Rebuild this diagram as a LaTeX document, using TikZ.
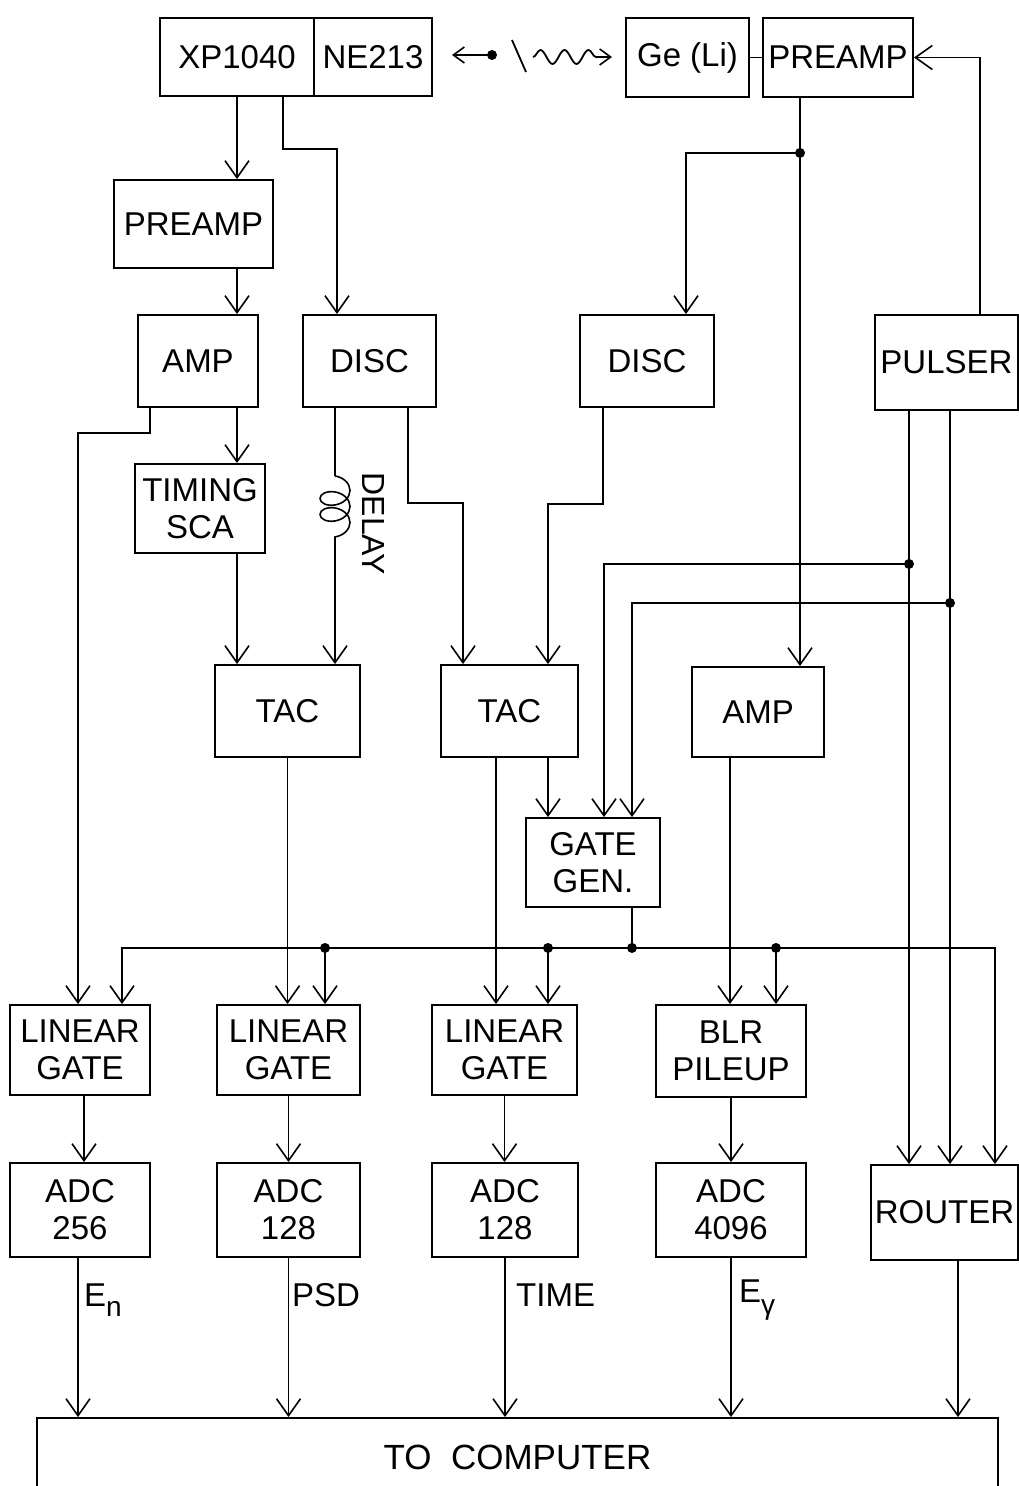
\documentclass[tikz,border=0pt]{standalone}
\usepackage{fontspec}
\setmainfont{Liberation Sans}
\usetikzlibrary{arrows.meta,decorations.pathmorphing,calc}
\begin{document}
\begin{tikzpicture}[x=1pt,y=-1pt,
  blk/.style={draw, line width=1.9pt, inner sep=0pt, align=center, font=\fontsize{33}{37}\selectfont},
  wire/.style={line width=1.8pt},
  arr/.style={line width=1.8pt, -{Straight Barb[length=17pt,width=24pt,line width=1.6pt]}},
  arrs/.style={line width=1.8pt, -{Straight Barb[length=11pt,width=16pt,line width=1.6pt]}},
  lab/.style={font=\fontsize{33}{37}\selectfont, anchor=west, inner sep=0pt},
  dot/.style={circle, fill, inner sep=0pt, minimum size=10pt}]
\useasboundingbox (0,0) rectangle (1019,1486);

% ---- boxes ----
\node[blk,minimum width=154pt,minimum height=78pt] (xp) at (237,57) {XP1040};
\node[blk,minimum width=118pt,minimum height=78pt] (ne) at (373,57) {NE213};
\node[blk,minimum width=123pt,minimum height=79pt] (ge) at (687.5,57.5) {Ge (Li)};
\node[blk,minimum width=150pt,minimum height=79pt] (pre2) at (838,57.5) {PREAMP};
\node[blk,minimum width=159pt,minimum height=88pt] (pre1) at (193.5,224) {PREAMP};
\node[blk,minimum width=120pt,minimum height=92pt] (amp1) at (198,361) {AMP};
\node[blk,minimum width=133pt,minimum height=92pt] (disc1) at (369.5,361) {DISC};
\node[blk,minimum width=134pt,minimum height=92pt] (disc2) at (647,361) {DISC};
\node[blk,minimum width=143pt,minimum height=95pt] (pulser) at (946.5,362.5) {PULSER};
\node[blk,minimum width=130pt,minimum height=89pt] (tsca) at (200,508.5) {TIMING\\SCA};
\node[blk,minimum width=145pt,minimum height=92pt] (tac1) at (287.5,711) {TAC};
\node[blk,minimum width=137pt,minimum height=92pt] (tac2) at (509.5,711) {TAC};
\node[blk,minimum width=132pt,minimum height=90pt] (amp2) at (758,712) {AMP};
\node[blk,minimum width=134pt,minimum height=89pt] (gg) at (593,862.5) {GATE\\GEN.};
\node[blk,minimum width=140pt,minimum height=90pt] (lg1) at (80,1050) {LINEAR\\GATE};
\node[blk,minimum width=143pt,minimum height=90pt] (lg2) at (288.5,1050) {LINEAR\\GATE};
\node[blk,minimum width=145pt,minimum height=90pt] (lg3) at (504.5,1050) {LINEAR\\GATE};
\node[blk,minimum width=150pt,minimum height=92pt] (blr) at (731,1051) {BLR\\PILEUP};
\node[blk,minimum width=140pt,minimum height=94pt] (adc1) at (80,1210) {ADC\\256};
\node[blk,minimum width=143pt,minimum height=94pt] (adc2) at (288.5,1210) {ADC\\128};
\node[blk,minimum width=146pt,minimum height=94pt] (adc3) at (505,1210) {ADC\\128};
\node[blk,minimum width=150pt,minimum height=94pt] (adc4) at (731,1210) {ADC\\4096};
\node[blk,minimum width=147pt,minimum height=95pt] (router) at (944.5,1212.5) {ROUTER};
\node[blk,minimum width=961pt,minimum height=78pt,font=\fontsize{35}{38}\selectfont] (comp) at (517.5,1457) {TO\; COMPUTER};

% ---- source pictogram ----
\draw[wire] (ge.east) -- (pre2.west);
\coordinate (src) at (492,55);
\draw[arrs] (src) -- (452,55);
\fill (src) circle (5);
\draw[wire] (512,40) -- (526,72);
\draw[wire, decorate, decoration={snake, amplitude=7pt, segment length=24pt}] (533,57) -- (600,57);
\draw[arrs] (598,57) -- (612,57);

% ---- left chain ----
\draw[arr] (xp.south) -- (xp.south |- pre1.north);
\draw[arr] (xp.south |- pre1.south) -- (xp.south |- amp1.north);
\draw[arr] (xp.south |- amp1.south) -- (xp.south |- tsca.north);
\draw[arr] (xp.south |- tsca.south) -- (xp.south |- tac1.north);
\draw[arr] ([xshift=-90pt]ne.south) -- ++(0,52) -| ([xshift=-32.5pt]disc1.north);

% delay line
\coordinate (dl) at ([xshift=-34.5pt]disc1.south);
\draw[wire] (dl) -- ++(0,68) coordinate (coilA);
\draw[line width=1.6pt, decorate, decoration={coil, aspect=0.7, segment length=16pt, amplitude=15pt}] (coilA) -- ++(0,72) coordinate (coilB);
\draw[arr] (coilB) -- (dl |- tac1.north);
\node[font=\fontsize{32}{34}\selectfont, rotate=-90] (delay) at (374,524) {DELAY};

\draw[arr] ([xshift=38.5pt]disc1.south) -- ++(0,95) -| ([xshift=-46.5pt]tac2.north);
\draw[arr] ([xshift=-44pt]disc2.south) -- ++(0,96) -| ([xshift=38.5pt]tac2.north);

% ---- Ge(Li) preamp ----
\draw[wire] ([xshift=-38pt]pre2.south) -- ++(0,55) coordinate (pd);
\draw[arr] (pd) -- (pd |- amp2.north);
\draw[arr] (pd) -| ([xshift=39pt]disc2.north);
\node[dot] at (pd) {};

% ---- pulser ----
\draw[arr] ([xshift=33.5pt]pulser.north) |- (pre2.east);
\coordinate (p1) at ([xshift=-37.5pt]pulser.south);
\coordinate (p2) at ([xshift=3.5pt]pulser.south);
\draw[arr] (p1) -- (p1 |- router.north);
\draw[arr] (p2) -- (p2 |- router.north);
\path (p1) ++(0,153) coordinate (d1);
\path (p2) ++(0,192) coordinate (d2);
\draw[arr] (d1) -| ([xshift=11pt]gg.north);
\draw[arr] (d2) -| ([xshift=39pt]gg.north);
\node[dot] at (d1) {};
\node[dot] at (d2) {};

% ---- TACs, AMP ----
\coordinate (t2a) at ([xshift=38.5pt]tac2.south);
\draw[arr] (t2a) -- (t2a |- gg.north);
\coordinate (t2b) at ([xshift=-13.5pt]tac2.south);
\draw[arr] (t2b) -- (t2b |- lg3.north);
\draw[arr] (tac1.south) -- (tac1.south |- lg2.north);
\coordinate (a2) at ([xshift=-28pt]amp2.south);
\draw[arr] (a2) -- (a2 |- blr.north);
\draw[arr] ([xshift=-48pt]amp1.south) -- ++(0,25) -| ([xshift=-2pt]lg1.north);

% ---- gate bus ----
\draw[wire] ([xshift=39pt]gg.south) -- ++(0,40) coordinate (bus);
\draw[arr] (bus) -| ([xshift=42pt]lg1.north);
\draw[arr] (bus) -| ([xshift=50.5pt]router.north);
\node[dot] at (bus) {};
\coordinate (g2) at ([xshift=36.5pt]lg2.north);
\coordinate (g3) at ([xshift=43.5pt]lg3.north);
\coordinate (g4) at ([xshift=45pt]blr.north);
\foreach \g in {g2,g3,g4} {
  \draw[arr] (\g |- bus) -- (\g);
  \node[dot] at (\g |- bus) {};
}

% ---- gates to ADCs ----
\draw[arr] ([xshift=4pt]lg1.south) -- ([xshift=4pt]adc1.north);
\draw[arr] (lg2.south) -- (adc2.north);
\draw[arr] (lg3.south) -- (lg3.south |- adc3.north);
\draw[arr] (blr.south) -- (adc4.north);

% ---- to computer ----
\coordinate (o1) at ([xshift=-2pt]adc1.south);
\coordinate (o5) at ([xshift=13.5pt]router.south);
\draw[arr] (o1) -- (o1 |- comp.north);
\draw[arr] (adc2.south) -- (adc2.south |- comp.north);
\draw[arr] (adc3.south) -- (adc3.south |- comp.north);
\draw[arr] (adc4.south) -- (adc4.south |- comp.north);
\draw[arr] (o5) -- (o5 |- comp.north);

\node[lab] (en) at (84,1300) {E\raisebox{-10pt}{\fontsize{28}{30}\selectfont n}};
\node[lab] (psd) at (292,1295) {PSD};
\node[lab] (time) at (516,1295) {TIME};
\node[lab] (eg) at (739,1300) {E\raisebox{-12pt}{\fontsize{28}{30}\selectfont γ}};
\end{tikzpicture}
\end{document}
